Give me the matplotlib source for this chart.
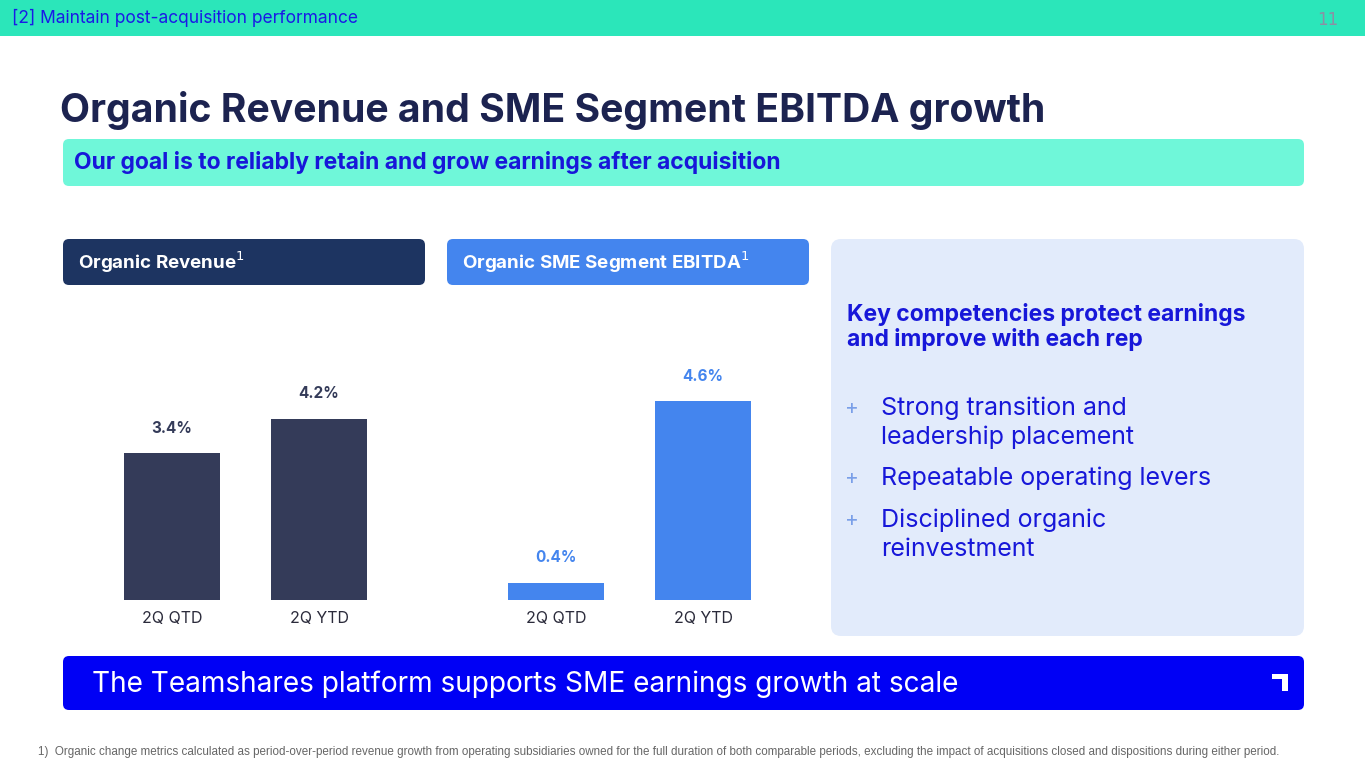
import matplotlib
matplotlib.use("Agg")
import matplotlib.pyplot as plt
from matplotlib.patches import FancyBboxPatch, Rectangle

categories = ["2Q QTD", "2Q YTD"]
revenue = [3.4, 4.2]
ebitda = [0.4, 4.6]
bullets = ["Strong transition and\nleadership placement", "Repeatable operating levers", "Disciplined organic\nreinvestment"]

W, H = 1365, 768
fig = plt.figure(figsize=(W/100, H/100), dpi=100)
F = "Inter"

def fx(x): return x / W
def fy(y): return 1 - y / H

def rbox(x0, y0, x1, y1, color, r=6):
    p = FancyBboxPatch((fx(x0), fy(y1)), fx(x1) - fx(x0), fy(y0) - fy(y1),
                       boxstyle=f"round,pad=0,rounding_size={r/W}", transform=fig.transFigure,
                       facecolor=color, edgecolor="none", mutation_aspect=W/H)
    fig.patches.append(p)

def txt(x, y, s, **kw):
    kw.setdefault("family", F)
    fig.text(fx(x), fy(y), s, **kw)

# header band
fig.patches.append(Rectangle((0, fy(36)), 1, 36/H, transform=fig.transFigure, facecolor="#2BE6BA", edgecolor="none"))
txt(12, 18, "[2] Maintain post-acquisition performance", color="#1A1AE6", fontsize=12.5, va="center")
txt(1338, 20, "11", color="#8A90A4", fontsize=12, va="center", ha="right", family="DejaVu Sans")

txt(60, 110, "Organic Revenue and SME Segment EBITDA growth", color="#1C2350", fontsize=28.2, fontweight="bold", va="center")
rbox(63, 139, 1304, 186, "#6FF7D9")
txt(74, 163, "Our goal is to reliably retain and grow earnings after acquisition", color="#1717D9", fontsize=16.5, fontweight="bold", va="center")

rbox(63, 239, 425, 285, "#1D3461")
txt(78, 262, r"Organic Revenue$^{1}$", color="white", fontsize=13.5, fontweight="bold", va="center")
rbox(447, 239, 809, 285, "#4485EE")
txt(462, 262, r"Organic SME Segment EBITDA$^{1}$", color="white", fontsize=13.5, fontweight="bold", va="center")

# right panel
rbox(831, 239, 1304, 636, "#E2EBFB", r=10)
txt(847, 327, "Key competencies protect earnings\nand improve with each rep", color="#1717D9", fontsize=16.5, fontweight="bold", va="center", linespacing=1.1)
for y, b in zip([408, 478, 520], bullets):
    txt(845, y, "+", color="#7A9FE8", fontsize=15, va="center")
    txt(881, y - 12, b, color="#1717D9", fontsize=18, va="top", linespacing=1.35)

# bar charts
def bar_ax(x0, vals, color):
    ax = fig.add_axes([fx(x0), fy(600), (362)/W, 300/H])
    xs = range(len(vals))
    ax.bar(xs, vals, width=0.653, color=color)
    ax.set_xlim(-0.741, 1.72)
    ax.set_ylim(0, 300/43.2)
    for x, v in zip(xs, vals):
        ax.text(x, v + 0.4, f"{v:.1f}%", ha="center", va="bottom", fontsize=11, fontweight="bold", color=color, family=F)
    ax.set_xticks(list(xs))
    ax.set_xticklabels(categories, fontsize=11.5, color="#2B2B3B", family=F)
    ax.tick_params(length=0, pad=8)
    ax.set_yticks([])
    for s in ax.spines.values():
        s.set_visible(False)
    ax.patch.set_alpha(0)
    return ax

bar_ax(63, revenue, "#343B59")
bar_ax(447, ebitda, "#4485EE")

rbox(63, 656, 1304, 710, "#0000F5")
txt(92, 684, "The Teamshares platform supports SME earnings growth at scale", color="white", fontsize=20.2, va="center")
fig.patches.append(Rectangle((fx(1272), fy(679)), 15/W, 5/H, transform=fig.transFigure, facecolor="white"))
fig.patches.append(Rectangle((fx(1282), fy(691)), 6/W, 17/H, transform=fig.transFigure, facecolor="white"))

txt(38, 752, "1)  Organic change metrics calculated as period-over-period revenue growth from operating subsidiaries owned for the full duration of both comparable periods, excluding the impact of acquisitions closed and dispositions during either period.",
    family="Liberation Sans", fontsize=8.35, color="#666666", va="center")

fig.savefig("out.png", dpi=100)
